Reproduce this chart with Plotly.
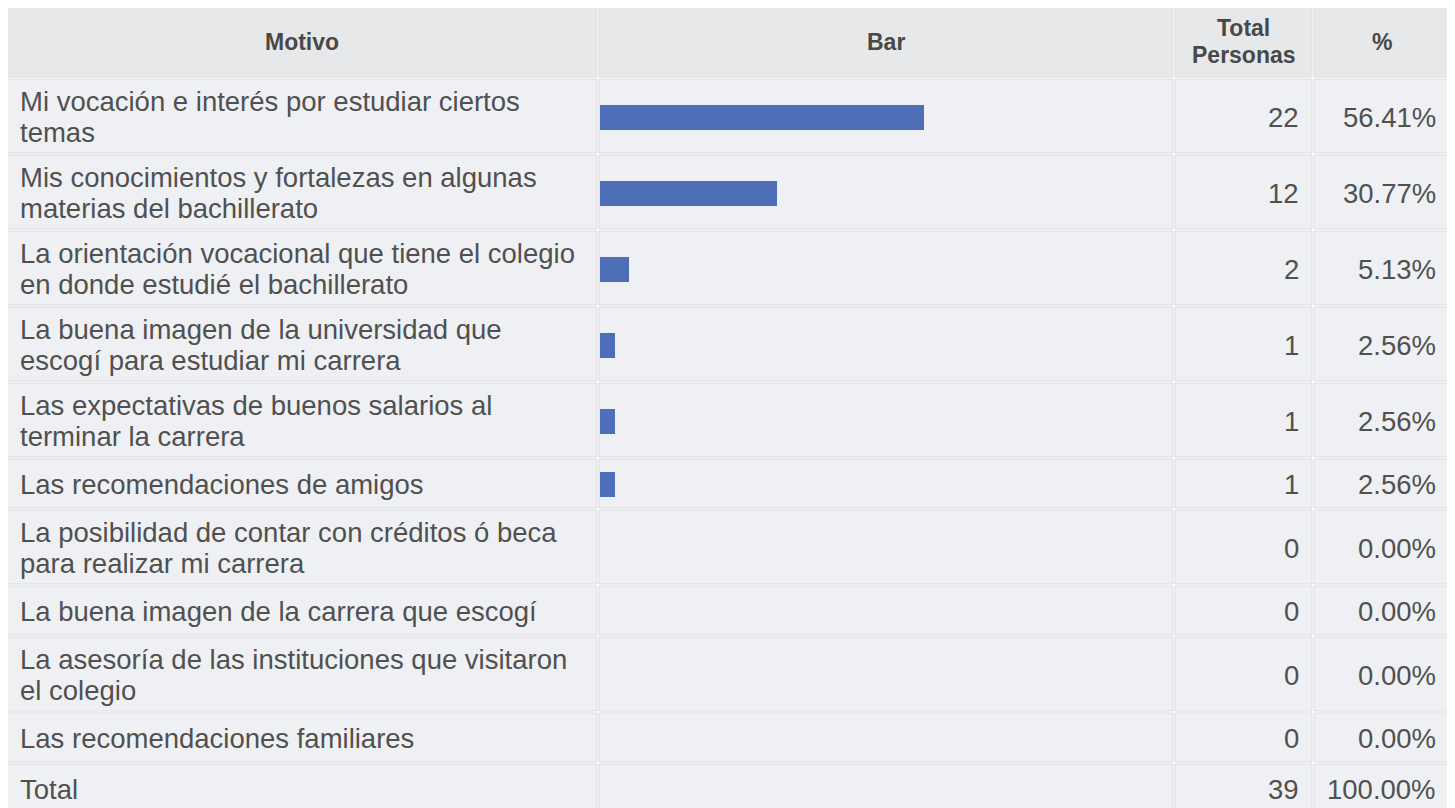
import plotly.graph_objects as go

# ---------------- data ----------------
headers = ["Motivo", "Bar", "Total\nPersonas", "%"]
motivos = [
    "Mi vocación e interés por estudiar ciertos\ntemas",
    "Mis conocimientos y fortalezas en algunas\nmaterias del bachillerato",
    "La orientación vocacional que tiene el colegio\nen donde estudié el bachillerato",
    "La buena imagen de la universidad que\nescogí para estudiar mi carrera",
    "Las expectativas de buenos salarios al\nterminar la carrera",
    "Las recomendaciones de amigos",
    "La posibilidad de contar con créditos ó beca\npara realizar mi carrera",
    "La buena imagen de la carrera que escogí",
    "La asesoría de las instituciones que visitaron\nel colegio",
    "Las recomendaciones familiares",
]
totales = [22, 12, 2, 1, 1, 1, 0, 0, 0, 0]
porcentajes = [56.41, 30.77, 5.13, 2.56, 2.56, 2.56, 0.00, 0.00, 0.00, 0.00]
total_label = "Total"
total_n = 39
total_pct = 100.00

# ---------------- layout geometry ----------------
W, H = 1455, 808
OFF = 8  # page body margin
cols = [(7, 597), (599, 1173), (1175, 1312), (1314, 1450)]
header_top, header_bot = 6, 77
first_row_top = 79
GAP = 2
FONT = "Liberation Sans, Arial, Helvetica, sans-serif"
HEAD_BG = "#e7e8ea"
BODY_BG = "#eff0f4"
EDGE = "#dcdde0"
TXT = "#505050"
HEAD_TXT = "#484848"
BAR_COLOR = "#4e6fb7"
FS = 27.5

row_labels = motivos + [total_label]
row_tops, row_bots, centers = [], [], []
y = first_row_top
for lab in row_labels:
    n = lab.count("\n") + 1
    h = 26 + 25 * n
    row_tops.append(y)
    row_bots.append(y + h - GAP)
    centers.append(y + (h - GAP) / 2 + 1)
    y += h

shapes = []
annotations = []

# header cells
r = 10
for ci, (x0, x1) in enumerate(cols):
    y0, y1 = header_top, header_bot
    if ci == 0:
        path = (f"M {x0},{y1} L {x0},{y0 + r} Q {x0},{y0} {x0 + r},{y0} "
                f"L {x1},{y0} L {x1},{y1} Z")
        shapes.append(dict(type="path", path=path, xref="x", yref="y",
                           fillcolor=HEAD_BG, line=dict(color=EDGE, width=1), layer="below"))
    elif ci == len(cols) - 1:
        path = (f"M {x0},{y1} L {x0},{y0} L {x1 - r},{y0} Q {x1},{y0} {x1},{y0 + r} "
                f"L {x1},{y1} Z")
        shapes.append(dict(type="path", path=path, xref="x", yref="y",
                           fillcolor=HEAD_BG, line=dict(color=EDGE, width=1), layer="below"))
    else:
        shapes.append(dict(type="rect", x0=x0, x1=x1, y0=y0, y1=y1, xref="x", yref="y",
                           fillcolor=HEAD_BG, line=dict(color=EDGE, width=1), layer="below"))
    lines = headers[ci].split("\n")
    hc = (y0 + y1) / 2
    for li, t in enumerate(lines):
        off = (li - (len(lines) - 1) / 2) * 27
        annotations.append(dict(x=(x0 + x1) / 2, y=hc + off, xref="x", yref="y",
                                text=f"<b>{t}</b>", showarrow=False, xanchor="center",
                                yanchor="middle",
                                font=dict(family=FONT, size=23, color=HEAD_TXT)))

# body cells
for ri, lab in enumerate(row_labels):
    t0, t1 = row_tops[ri], row_bots[ri]
    for (x0, x1) in cols:
        shapes.append(dict(type="rect", x0=x0, x1=x1, y0=t0, y1=t1, xref="x", yref="y",
                           fillcolor=BODY_BG, line=dict(color=EDGE, width=1), layer="below"))
    c = centers[ri]
    lines = lab.split("\n")
    for li, t in enumerate(lines):
        off = (li - (len(lines) - 1) / 2) * 31
        annotations.append(dict(x=cols[0][0] + 11, y=c + off, xref="x", yref="y",
                                text=t, showarrow=False, xanchor="left", yanchor="middle",
                                font=dict(family=FONT, size=FS, color=TXT)))
    if ri < len(motivos):
        n_txt = f"{totales[ri]}"
        p_txt = f"{porcentajes[ri]:.2f}%"
    else:
        n_txt = f"{total_n}"
        p_txt = f"{total_pct:.2f}%"
    annotations.append(dict(x=cols[2][1] - 11, y=c, xref="x", yref="y", text=n_txt,
                            showarrow=False, xanchor="right", yanchor="middle",
                            font=dict(family=FONT, size=FS, color=TXT)))
    annotations.append(dict(x=cols[3][1] - 12, y=c, xref="x", yref="y", text=p_txt,
                            showarrow=False, xanchor="right", yanchor="middle",
                            font=dict(family=FONT, size=FS, color=TXT)))

fig = go.Figure()
fig.add_trace(go.Bar(
    x=porcentajes, y=centers[:len(motivos)], orientation="h",
    xaxis="x2", yaxis="y", width=25,
    marker=dict(color=BAR_COLOR, line=dict(width=0)),
    showlegend=False, hovertext=motivos, hoverinfo="text+x",
))

fig.update_layout(
    width=W, height=H,
    margin=dict(l=0, r=0, t=0, b=0),
    paper_bgcolor="white", plot_bgcolor="rgba(0,0,0,0)",
    xaxis=dict(range=[OFF, W + OFF], domain=[0, 1], visible=False, fixedrange=True),
    xaxis2=dict(range=[0, 100],
                domain=[(cols[1][0] + 1 - OFF) / W, (cols[1][1] + 1 - OFF) / W],
                anchor="y", visible=False, fixedrange=True),
    yaxis=dict(range=[H + OFF, OFF], domain=[0, 1], visible=False, fixedrange=True),
    shapes=shapes, annotations=annotations,
    bargap=0,
)

fig.write_html("out.html", config={"displayModeBar": False})
